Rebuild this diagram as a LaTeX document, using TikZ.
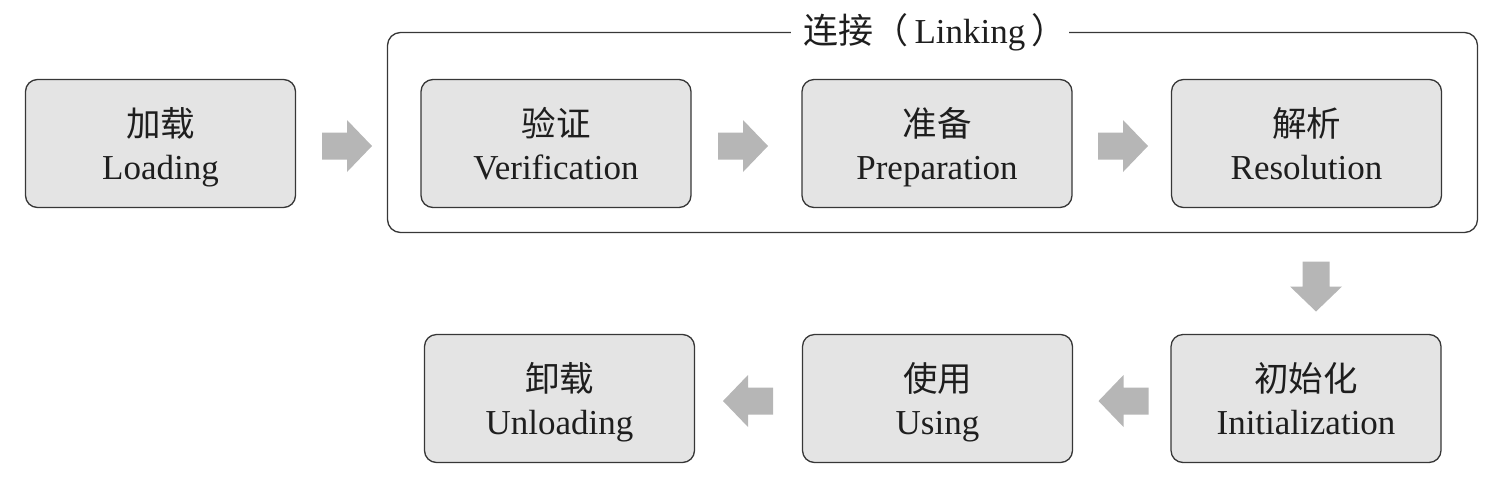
\documentclass[tikz,border=0pt]{standalone}
\usepackage{fontspec}
\usetikzlibrary{calc}
\setmainfont{Liberation Serif}
\newfontfamily\cjk{Noto Sans CJK SC}
\definecolor{boxgray}{RGB}{228,228,228}
\definecolor{linegray}{RGB}{55,55,55}
\definecolor{arrowgray}{RGB}{182,182,182}
\definecolor{txt}{RGB}{30,30,30}
\newcommand\mkstage[4]{%
  \node[stage] (#1) at (#2) {};
  \node[zhtext] (#1-zh) at ($(#1.center)+(0,-7.5)$) {#3};
  \node[entext] (#1-en) at ($(#1.center)+(0,36)$) {#4};
}
\begin{document}
\begin{tikzpicture}[x=1pt,y=-1pt,
  stage/.style={draw=linegray, line width=1.3pt, fill=boxgray, rounded corners=12pt,
    minimum width=270pt, minimum height=128pt, inner sep=0pt},
  zhtext/.style={anchor=base, inner sep=0pt, text=txt, font=\cjk\fontsize{34.5}{40}\selectfont},
  entext/.style={anchor=base, inner sep=0pt, text=txt, font=\fontsize{35}{40}\selectfont},
  groupbox/.style={draw=linegray, line width=1.3pt, rounded corners=13pt,
    minimum width=1090pt, minimum height=200pt, inner sep=0pt},
  grouptitle/.style={fill=white, inner xsep=3pt, inner ysep=2pt, text=txt,
    font=\fontsize{35}{40}\selectfont},
  blockarrow/.pic={\fill[arrowgray] (-25,-13.5) -- (0,-13.5) -- (0,-26) -- (25,0)
     -- (0,26) -- (0,13.5) -- (-25,13.5) -- cycle;}
]
\useasboundingbox (0,0) rectangle (1507,499);
\node[groupbox] (link) at (932.5,132.5) {};
\node[grouptitle] (linktitle) at (link.north -| 930,0) {\hspace{10pt}{\cjk 连接（}\,Linking\,{\cjk ）}\hspace{-8pt}};
\mkstage{load}{160.5,143.5}{加载}{Loading}
\mkstage{verify}{556,143.5}{验证}{Verification}
\mkstage{prep}{937,143.5}{准备}{Preparation}
\mkstage{resol}{1306.5,143.5}{解析}{Resolution}
\mkstage{init}{1306,398.5}{初始化}{Initialization}
\mkstage{use}{937.5,398.5}{使用}{Using}
\mkstage{unload}{559.5,398.5}{卸载}{Unloading}
\pic at (347,146) {blockarrow};
\pic at (743,146) {blockarrow};
\pic at (1123,146) {blockarrow};
\pic[rotate=-90] at (1316,286.5) {blockarrow};
\pic[xscale=-1] at (1123.5,401) {blockarrow};
\pic[xscale=-1] at (748,401) {blockarrow};
\end{tikzpicture}
\end{document}
